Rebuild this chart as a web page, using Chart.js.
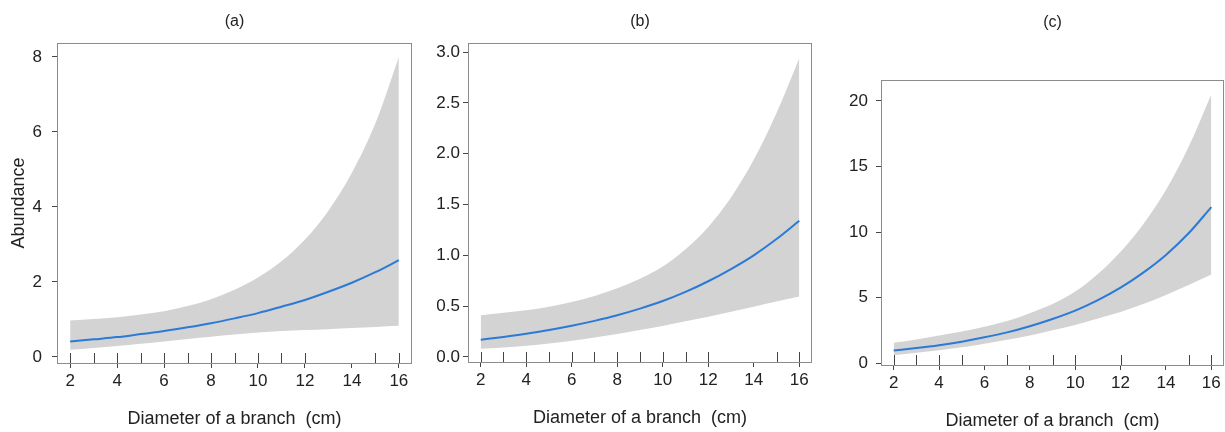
<!DOCTYPE html>
<html>
<head>
<meta charset="utf-8">
<title>Abundance vs branch diameter</title>
<script src="https://cdn.jsdelivr.net/npm/chart.js@4.4.1/dist/chart.umd.min.js"></script>
<style>
    html, body { margin: 0; padding: 0; background: #fff; }
    #wrap { position: relative; width: 1225px; height: 432px; overflow: hidden; }
    #wrap canvas { position: absolute; top: 0; }
</style>
</head>
<body>
<div id="wrap">
    <canvas id="chartA" width="415" height="432" style="left:0px"></canvas>
    <canvas id="chartB" width="400" height="432" style="left:415px"></canvas>
    <canvas id="chartC" width="410" height="432" style="left:815px"></canvas>
</div>
<script>
'use strict';

// shared x values (branch diameter, cm) and x tick labels
var diameters = [2, 3, 4, 5, 6, 7, 8, 9, 10, 11, 12, 13, 14, 15, 16];
var xTicks = [2, 4, 6, 8, 10, 12, 14, 16];

// (a)
var meanA  = [0.41, 0.47, 0.53, 0.61, 0.69, 0.79, 0.90, 1.03, 1.17, 1.34, 1.52, 1.74, 1.98, 2.26, 2.58];
var upperA = [0.97, 1.01, 1.06, 1.13, 1.22, 1.36, 1.54, 1.79, 2.12, 2.55, 3.13, 3.90, 4.91, 6.23, 8.00];
var lowerA = [0.19, 0.24, 0.29, 0.35, 0.41, 0.48, 0.54, 0.60, 0.65, 0.69, 0.72, 0.74, 0.77, 0.80, 0.83];
var yTicksA = [0, 2, 4, 6, 8];
var rugA = [2, 3, 4, 5, 6, 7, 8, 9, 10, 11, 12, 15, 16];

// (b)
var meanB  = [0.17, 0.197, 0.228, 0.265, 0.307, 0.355, 0.41, 0.475, 0.55, 0.64, 0.745, 0.865, 1.00, 1.16, 1.34];
var upperB = [0.41, 0.435, 0.46, 0.495, 0.54, 0.60, 0.675, 0.77, 0.89, 1.06, 1.28, 1.57, 1.94, 2.40, 2.94];
var lowerB = [0.08, 0.093, 0.11, 0.132, 0.158, 0.19, 0.225, 0.265, 0.305, 0.35, 0.395, 0.445, 0.495, 0.545, 0.595];
var yTicksB = [0, 0.5, 1, 1.5, 2, 2.5, 3];
var rugB = [2, 3, 4, 5, 6, 7, 8, 9, 10, 11, 12, 15, 16];

// (c)
var meanC  = [0.95, 1.14, 1.36, 1.63, 1.96, 2.34, 2.81, 3.36, 4.00, 4.80, 5.75, 6.90, 8.25, 9.90, 11.9];
var upperC = [1.55, 1.80, 2.10, 2.40, 2.76, 3.20, 3.80, 4.50, 5.45, 6.80, 8.50, 10.6, 13.2, 16.5, 20.5];
var lowerC = [0.60, 0.78, 0.97, 1.20, 1.48, 1.78, 2.10, 2.50, 2.90, 3.40, 3.90, 4.50, 5.20, 5.95, 6.75];
var yTicksC = [0, 5, 10, 15, 20];
var rugC = [2, 3, 4, 5, 7, 9, 10, 12, 15, 16];

var FONT = "'Liberation Sans', Arial, Helvetica, sans-serif";
var TEXT = '#222';
var BAND = '#d3d3d3';
var LINE = '#2a7ad6';

var toPoints = function(ys) {
    return diameters.map(function(x, i) {
        return {x: x, y: ys[i]};
    });
};

// draws the frame round the plot and the rug marks along the bottom
var framePlugin = {
    id: 'frame',
    afterDatasetsDraw: function(chart, args, opts) {
        var ctx = chart.ctx;
        var area = chart.chartArea;
        var xScale = chart.scales.x;

        ctx.save();
        ctx.lineWidth = 1;
        ctx.strokeStyle = '#444';
        ctx.beginPath();
        opts.rug.forEach(function(v) {
            var px = Math.round(xScale.getPixelForValue(v)) + 0.5;
            ctx.moveTo(px, area.bottom);
            ctx.lineTo(px, area.bottom - 10);
        });
        ctx.stroke();

        ctx.strokeStyle = '#8c8c8c';
        ctx.strokeRect(Math.round(area.left) + 0.5, Math.round(area.top) + 0.5,
            Math.round(area.right - area.left) - 1, Math.round(area.bottom - area.top));
        ctx.restore();
    }
};

var makePanel = function(p) {
    var yTitle = {display: false};
    if (p.yTitle) {
        yTitle = {
            display: true,
            text: p.yTitle,
            color: TEXT,
            font: {family: FONT, size: 18},
            padding: {top: 8, bottom: 0}
        };
    }

    return new Chart(document.getElementById(p.id), {
        type: 'line',
        data: {
            datasets: [
                {
                    data: toPoints(p.mean),
                    borderColor: LINE,
                    borderWidth: 2,
                    fill: false,
                    pointRadius: 0,
                    cubicInterpolationMode: 'monotone'
                },
                {
                    data: toPoints(p.upper),
                    borderColor: 'transparent',
                    borderWidth: 0,
                    backgroundColor: BAND,
                    fill: '+1',
                    pointRadius: 0,
                    cubicInterpolationMode: 'monotone'
                },
                {
                    data: toPoints(p.lower),
                    borderColor: 'transparent',
                    borderWidth: 0,
                    fill: false,
                    pointRadius: 0,
                    cubicInterpolationMode: 'monotone'
                }
            ]
        },
        options: {
            responsive: false,
            animation: false,
            events: [],
            layout: {
                padding: {top: 0, right: p.padRight, bottom: 0, left: 0}
            },
            scales: {
                x: {
                    type: 'linear',
                    min: 1.44,
                    max: 16.56,
                    afterBuildTicks: function(scale) {
                        scale.ticks = xTicks.map(function(v) { return {value: v}; });
                    },
                    afterFit: function(scale) {
                        scale.height = 432 - p.bottom;
                    },
                    border: {display: false},
                    grid: {
                        drawOnChartArea: false,
                        drawTicks: true,
                        tickLength: 5,
                        tickColor: '#444'
                    },
                    ticks: {
                        color: TEXT,
                        padding: 3,
                        maxRotation: 0,
                        font: {family: FONT, size: 17}
                    },
                    title: {
                        display: true,
                        text: 'Diameter of a branch  (cm)',
                        color: TEXT,
                        font: {family: FONT, size: 18},
                        padding: {top: 0, bottom: p.xTitlePad}
                    }
                },
                y: {
                    type: 'linear',
                    min: p.yMin,
                    max: p.yMax,
                    afterBuildTicks: function(scale) {
                        scale.ticks = p.yTicks.map(function(v) { return {value: v}; });
                    },
                    afterFit: function(scale) {
                        scale.width = p.left;
                    },
                    border: {display: false},
                    grid: {
                        drawOnChartArea: false,
                        drawTicks: true,
                        tickLength: 5,
                        tickColor: '#444'
                    },
                    ticks: {
                        color: TEXT,
                        padding: p.yTickPad,
                        font: {family: FONT, size: 17},
                        callback: function(v) {
                            return p.decimals ? v.toFixed(p.decimals) : String(v);
                        }
                    },
                    title: yTitle
                }
            },
            plugins: {
                legend: {display: false},
                tooltip: {enabled: false},
                title: {
                    display: true,
                    text: p.title,
                    color: TEXT,
                    fullSize: false,
                    font: {family: FONT, size: 16, weight: 'normal'},
                    padding: {top: p.titleTop, bottom: p.top - p.titleTop - 19.2}
                },
                frame: {rug: p.rug}
            }
        },
        plugins: [framePlugin]
    });
};

makePanel({
    id: 'chartA', title: '(a)', yTitle: 'Abundance',
    mean: meanA, upper: upperA, lower: lowerA, yTicks: yTicksA, rug: rugA,
    yMin: -0.16, yMax: 8.37, decimals: 0,
    left: 57, top: 43, bottom: 363, padRight: 3, titleTop: 12, yTickPad: 10, xTitlePad: 2
});

makePanel({
    id: 'chartB', title: '(b)',
    mean: meanB, upper: upperB, lower: lowerB, yTicks: yTicksB, rug: rugB,
    yMin: -0.05, yMax: 3.09, decimals: 1,
    left: 53, top: 43, bottom: 362, padRight: 3, titleTop: 12, yTickPad: 3, xTitlePad: 3
});

makePanel({
    id: 'chartC', title: '(c)',
    mean: meanC, upper: upperC, lower: lowerC, yTicks: yTicksC, rug: rugC,
    yMin: -0.15, yMax: 21.6, decimals: 0,
    left: 66, top: 80, bottom: 365, padRight: 1, titleTop: 13, yTickPad: 8, xTitlePad: 0
});
</script>
</body>
</html>
